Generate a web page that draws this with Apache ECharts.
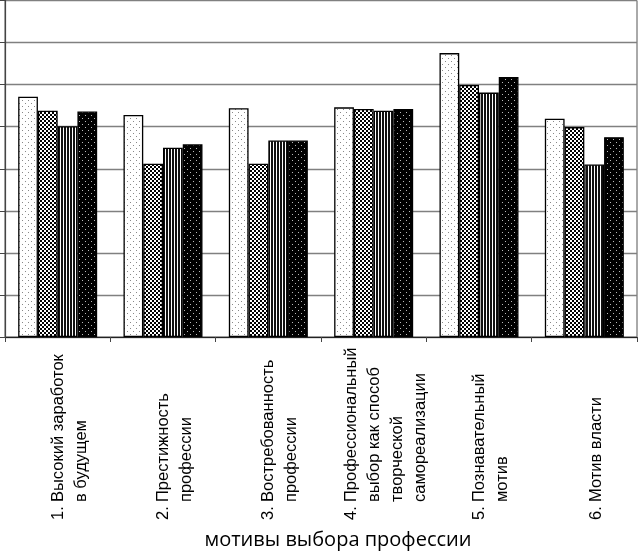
<!DOCTYPE html>
<html>
<head>
<meta charset="utf-8">
<script src="https://cdn.jsdelivr.net/npm/echarts@6/dist/echarts.min.js"></script>
<style>
html,body{margin:0;padding:0;background:#fff;}
#chart{width:639px;height:552px;}
</style>
</head>
<body>
<div id="chart"></div>
<script>
// Data
const categoryNums = ['1.', '2.', '3.', '4.', '5.', '6.'];
const categoryLines = [
  ['Высокий заработок', 'в будущем'],
  ['Престижность', 'профессии'],
  ['Востребованность', 'профессии'],
  ['Профессиональный', 'выбор как способ', 'творческой', 'самореализации'],
  ['Познавательный', 'мотив'],
  ['Мотив власти']
];
const categories = categoryLines.map((l, i) => categoryNums[i] + ' ' + l.join(' '));
const series1 = [5.71, 5.28, 5.44, 5.46, 6.75, 5.19];
const series2 = [5.38, 4.12, 4.12, 5.42, 5.99, 4.99];
const series3 = [5.01, 4.50, 4.67, 5.38, 5.81, 4.10];
const series4 = [5.36, 4.58, 4.67, 5.42, 6.18, 4.75];
const axisTitle = 'мотивы выбора профессии';

// Patterns
function makePattern(w, h, draw) {
  const c = document.createElement('canvas');
  c.width = w; c.height = h;
  const ctx = c.getContext('2d');
  draw(ctx);
  return { image: c, repeat: 'repeat' };
}
const pDots = makePattern(6, 6, ctx => {
  ctx.fillStyle = '#fff'; ctx.fillRect(0, 0, 6, 6);
  ctx.fillStyle = '#888';
  ctx.fillRect(1, 1, 1, 1); ctx.fillRect(4, 4, 1, 1);
});
const pCheck = makePattern(4, 4, ctx => {
  ctx.fillStyle = '#fff'; ctx.fillRect(0, 0, 4, 4);
  ctx.fillStyle = '#000';
  ctx.fillRect(0, 0, 2, 2); ctx.fillRect(2, 2, 2, 2);
});
const pStripes = makePattern(3, 3, ctx => {
  ctx.fillStyle = '#111'; ctx.fillRect(0, 0, 3, 3);
  ctx.fillStyle = '#fff'; ctx.fillRect(0, 0, 1, 3);
});
const pBlack = makePattern(6, 6, ctx => {
  ctx.fillStyle = '#000'; ctx.fillRect(0, 0, 6, 6);
  ctx.fillStyle = '#bbb';
  ctx.fillRect(1, 1, 1, 1); ctx.fillRect(4, 4, 1, 1);
});

const labelFont = 'Liberation Sans, Arial, sans-serif';
const chart = echarts.init(document.getElementById('chart'), null, { renderer: 'canvas' });
const barStyle = (pat) => ({ color: pat, borderColor: '#000', borderWidth: 1.3 });

chart.setOption({
  animation: false,
  backgroundColor: '#fff',
  grid: {
    left: 5, right: 2, top: 0.5, bottom: 215,
    show: true, borderColor: '#555', borderWidth: 1,
    containLabel: false, outerBoundsMode: 'none'
  },
  xAxis: {
    type: 'category',
    data: categories,
    axisLine: { lineStyle: { color: '#222', width: 1.2 } },
    axisTick: { show: true, length: 5, lineStyle: { color: '#444' } },
    axisLabel: {
      interval: 0,
      rotate: 90,
      margin: 183,
      align: 'left',
      verticalAlign: 'middle',
      padding: [24, 0, 0, 0],
      formatter: function (value, index) {
        return categoryLines[index].map((l, i) =>
          '{n|' + (i === 0 ? categoryNums[index] : ' ') + '}{t|' + l + '}'
        ).join('\n');
      },
      rich: {
        n: { width: 18, fontSize: 16.5, fontFamily: labelFont, color: '#000', lineHeight: 23 },
        t: { fontSize: 16.5, fontFamily: labelFont, color: '#000', lineHeight: 23 }
      }
    },
    name: axisTitle,
    nameLocation: 'middle',
    nameGap: 193,
    nameTextStyle: {
      fontSize: 20, fontFamily: 'Open Sans, Noto Sans, sans-serif', color: '#000',
      padding: [0, 0, 0, 34]
    }
  },
  yAxis: {
    type: 'value',
    min: 0, max: 8, interval: 1,
    axisLine: { show: true, lineStyle: { color: '#444', width: 1.2 } },
    axisTick: { show: true, inside: false, length: 5, lineStyle: { color: '#444' } },
    axisLabel: { show: false },
    splitLine: { show: true, lineStyle: { color: '#808080', width: 1.3 } }
  },
  series: [
    { name: 'Ряд 1', type: 'bar', data: series1, itemStyle: barStyle(pDots), barGap: '0%', barCategoryGap: '25%' },
    { name: 'Ряд 2', type: 'bar', data: series2, itemStyle: barStyle(pCheck), barGap: '0%', barCategoryGap: '25%' },
    { name: 'Ряд 3', type: 'bar', data: series3, itemStyle: barStyle(pStripes), barGap: '0%', barCategoryGap: '25%' },
    { name: 'Ряд 4', type: 'bar', data: series4, itemStyle: barStyle(pBlack), barGap: '0%', barCategoryGap: '25%' }
  ]
});
</script>
</body>
</html>
